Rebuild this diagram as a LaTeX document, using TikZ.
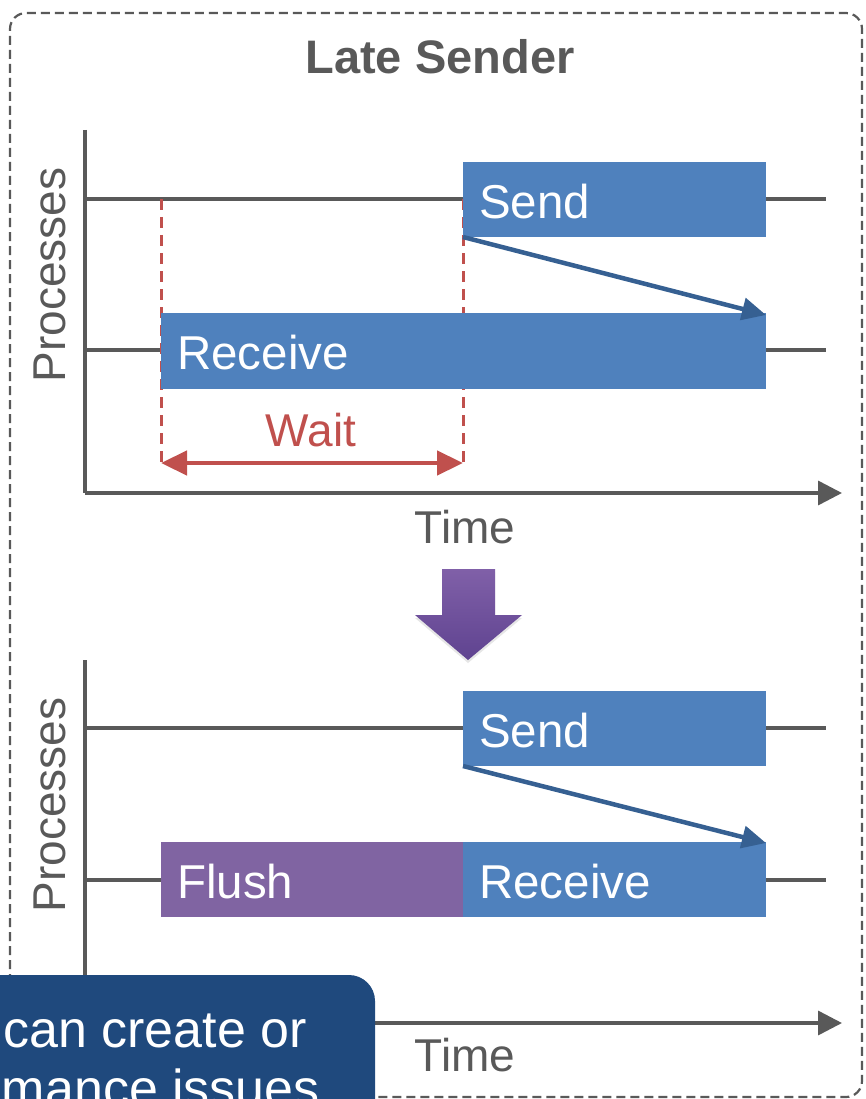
\documentclass[tikz,border=0pt]{standalone}
\usepackage{fontspec}
\setmainfont{Liberation Sans}
\usetikzlibrary{arrows.meta,shadows}
\definecolor{axisgray}{RGB}{89,89,89}
\definecolor{boxblue}{RGB}{79,129,189}
\definecolor{msgblue}{RGB}{54,96,146}
\definecolor{waitred}{RGB}{192,80,77}
\definecolor{flushpurple}{RGB}{128,100,162}
\definecolor{arrtop}{RGB}{128,96,168}
\definecolor{arrbot}{RGB}{95,67,144}
\definecolor{calloutblue}{RGB}{31,73,125}
\tikzset{
  lbl/.style={font=\fontsize{46}{52}\selectfont, text=axisgray, inner sep=0pt},
  boxtxt/.style={font=\fontsize{47.5}{52}\selectfont, text=white, inner sep=0pt, anchor=west},
  axis/.style={draw=axisgray, line width=3.5pt},
  axisarrow/.style={axis, -{Triangle[length=24pt,width=24pt]}},
  procline/.style={draw=axisgray, line width=3.5pt},
  evbox/.style={fill=boxblue, draw=none},
  flushbox/.style={fill=flushpurple, draw=none},
  msg/.style={draw=msgblue, line width=4.5pt, -{Triangle[length=24pt,width=22pt]}},
  waitline/.style={draw=waitred, line width=3pt, dash pattern=on 11pt off 7pt},
  waitarrow/.style={draw=waitred, line width=4.5pt, {Triangle[length=26pt,width=24pt]}-{Triangle[length=26pt,width=24pt]}},
  callouttxt/.style={font=\fontsize{52}{58}\selectfont, text=white, inner sep=0pt, anchor=base east},
}
\begin{document}
\begin{tikzpicture}[x=1pt,y=-1pt]
\useasboundingbox (0,0) rectangle (865,1099);
% frame
\draw[axisgray, line width=2.2pt, dash pattern=on 9pt off 5pt, rounded corners=16pt] (10,1097) -- (10,13) -- (862,13) -- (862,1097) -- cycle;
\node[font=\bfseries\fontsize{47}{52}\selectfont, text=axisgray] (title) at (440,57) {Late Sender};

% ---------- top chart ----------
\coordinate (o1) at (85,493);
\coordinate (ytop1) at (85,130);
\coordinate (xend1) at (842,493);
\draw[axis] (ytop1) -- (o1);
\draw[axisarrow] (o1) -- (xend1);
\coordinate (l1a) at (85,199); \coordinate (l1b) at (826,199);
\coordinate (l2a) at (85,350); \coordinate (l2b) at (826,350);
\draw[procline] (l1a) -- (l1b);
\draw[procline] (l2a) -- (l2b);
\node[lbl, rotate=90] (proc1) at (50,275) {Processes};
\node[lbl] (time1) at (465,527) {Time};

% wait lines
\coordinate (w1t) at (161,199); \coordinate (w1b) at (161,465);
\coordinate (w2t) at (463,199); \coordinate (w2b) at (463,465);
\draw[waitline] (w1t) -- (w1b);
\draw[waitline] (w2t) -- (w2b);

\path[evbox] (463,162) rectangle (766,237);
\node[boxtxt] (send1) at (479,202) {Send};
\path[evbox] (161,313) rectangle (766,389);
\node[boxtxt] (recv1) at (177,353) {Receive};

\coordinate (m1s) at (463,237); \coordinate (m1e) at (766,315);
\draw[msg] (m1s) -- (m1e);

\coordinate (wa) at (161,463); \coordinate (wb) at (463,463);
\draw[waitarrow] (wa) -- (wb);
\node[lbl, text=waitred] (wait) at (311,430) {Wait};

% ---------- big arrow ----------
\shade[top color=arrtop, bottom color=arrbot, drop shadow={opacity=0.2, shadow xshift=0pt, shadow yshift=-3pt}]
  (442,569) -- (495,569) -- (495,615) -- (522,615) -- (468,660) -- (415,615) -- (442,615) -- cycle;

% ---------- bottom chart ----------
\coordinate (o2) at (85,1023);
\coordinate (ytop2) at (85,660);
\coordinate (xend2) at (842,1023);
\draw[axis] (ytop2) -- (o2);
\draw[axisarrow] (o2) -- (xend2);
\coordinate (l3a) at (85,728); \coordinate (l3b) at (826,728);
\coordinate (l4a) at (85,880); \coordinate (l4b) at (826,880);
\draw[procline] (l3a) -- (l3b);
\draw[procline] (l4a) -- (l4b);
\node[lbl, rotate=90] (proc2) at (50,805) {Processes};
\node[lbl] (time2) at (465,1055) {Time};

\path[evbox] (463,691) rectangle (766,766);
\node[boxtxt] (send2) at (479,731) {Send};
\path[flushbox] (161,842) rectangle (463,917);
\node[boxtxt] (flush) at (177,882) {Flush};
\path[evbox] (463,842) rectangle (766,917);
\node[boxtxt] (recv2) at (479,882) {Receive};

\coordinate (m2s) at (463,766); \coordinate (m2e) at (766,843);
\draw[msg] (m2s) -- (m2e);

% ---------- callout ----------
\fill[calloutblue, rounded corners=26pt] (-40,975) rectangle (375,1160);
\node[callouttxt] (c1) at (307,1047) {can create or};
\node[callouttxt] (c2) at (320,1106) {mance issues};
\end{tikzpicture}
\end{document}
